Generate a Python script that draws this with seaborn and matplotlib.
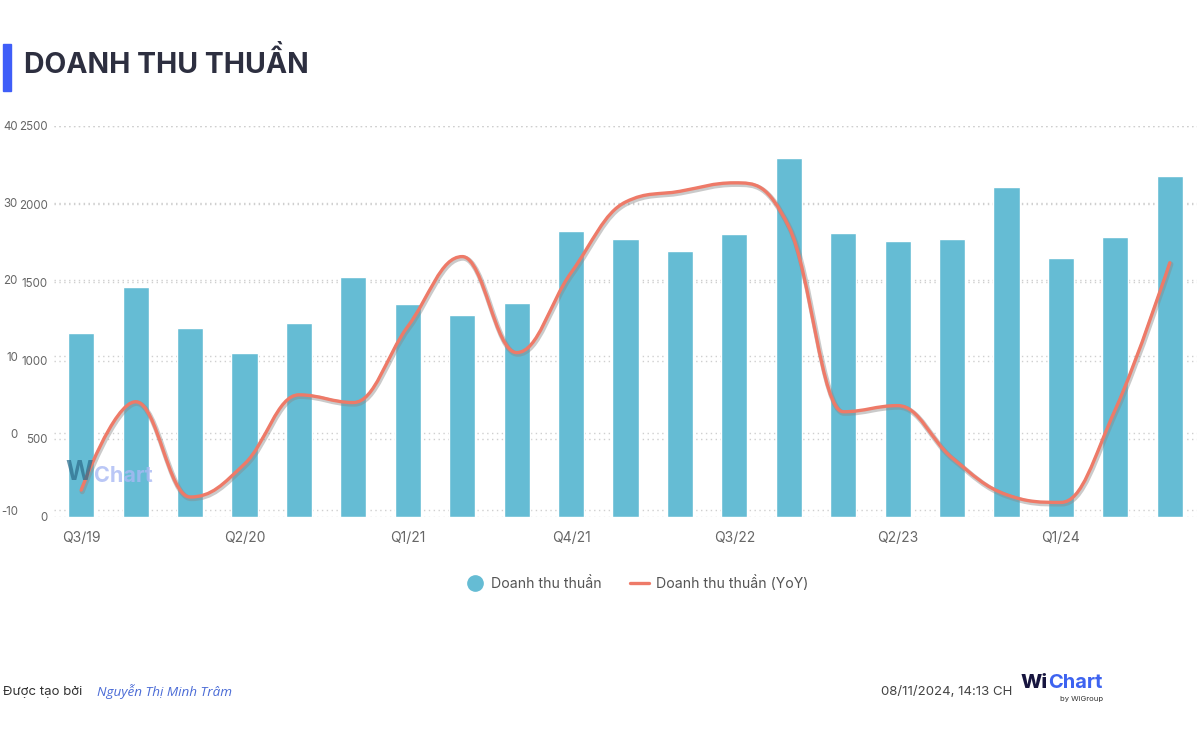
import matplotlib
matplotlib.use("Agg")
import matplotlib.pyplot as plt
import matplotlib.transforms as mtransforms
from matplotlib.path import Path
from matplotlib.patches import PathPatch, Rectangle
from matplotlib.lines import Line2D
import seaborn as sns
import pandas as pd

quarters = ["Q3/19", "Q4/19", "Q1/20", "Q2/20", "Q3/20", "Q4/20", "Q1/21", "Q2/21",
            "Q3/21", "Q4/21", "Q1/22", "Q2/22", "Q3/22", "Q4/22", "Q1/23", "Q2/23",
            "Q3/23", "Q4/23", "Q1/24", "Q2/24", "Q3/24"]
revenue = [1176, 1471, 1208, 1049, 1240, 1535, 1362, 1292, 1368, 1829, 1777, 1701,
           1809, 2295, 1816, 1765, 1777, 2110, 1656, 1790, 2180]
revenue_yoy = [-7.4, 4.1, -8.3, -4.0, 5.0, 4.0, 13.9, 23.0, 10.5, 20.9, 30.1, 31.5,
               32.6, 26.9, 2.8, 3.6, -3.2, -8.0, -9.0, 3.1, 22.2]
bar_ticks = [0, 500, 1000, 1500, 2000, 2500]
yoy_ticks = [-10, 0, 10, 20, 30, 40]

BAR_C = "#65BCD4"
LINE_C = "#EE7A68"
TICK_C = "#666666"
GRID_C = "#CFCFCF"

sns.set_theme(style="white")
plt.rcParams["font.family"] = ["Inter", "DejaVu Sans"]

df = pd.DataFrame({"quarter": quarters, "revenue": revenue})

fig = plt.figure(figsize=(12, 7.3), dpi=100)
rect = [0.045, 0.2918, 0.9525, 0.5356]

# line-scale grid axis (bottom)
ax_g = fig.add_axes(rect)
# bar axis
ax = fig.add_axes(rect, sharex=ax_g)
ax.patch.set_visible(False)
# line axis (top)
ax_l = fig.add_axes(rect, sharex=ax_g)
ax_l.patch.set_visible(False)

sns.barplot(data=df, x="quarter", y="revenue", ax=ax, color=BAR_C, saturation=1,
            width=0.48, zorder=2)
ax.set_xlim(-0.5, len(quarters) - 0.5)
ax.set_ylim(0, 2500)
ax.set_yticks(bar_ticks)
ax.set_yticklabels([str(t) for t in bar_ticks])
ax.set_axisbelow(True)
ax.grid(axis="y", color=GRID_C, linestyle=(0, (1, 2.5)), linewidth=1)
ax.grid(axis="x", visible=False)
ax.set_xlabel("")
ax.set_ylabel("")
xt = list(range(0, len(quarters), 3))
ax.set_xticks(xt)
ax.set_xticklabels([quarters[i] for i in xt])
ax.tick_params(axis="x", length=0, pad=10, labelsize=10, labelcolor=TICK_C)
ax.tick_params(axis="y", length=0, pad=4.5, labelsize=8.3, labelcolor=TICK_C)
for s in ax.spines.values():
    s.set_visible(False)

ax_g.set_ylim(-10.9, 40)
ax_g.set_yticks(yoy_ticks)
ax_g.set_yticklabels([str(t) for t in yoy_ticks])
ax_g.grid(axis="y", color=GRID_C, linestyle=(0, (1, 2.5)), linewidth=1)
ax_g.grid(axis="x", visible=False)
ax_g.tick_params(axis="y", length=0, pad=26, labelsize=8.3, labelcolor=TICK_C)
ax_g.tick_params(axis="x", length=0, labelbottom=False)
for s in ax_g.spines.values():
    s.set_visible(False)

ax_l.set_ylim(-10.9, 40)
ax_l.axis("off")


def hc_spline(xs, ys, smoothing=1.5):
    n = len(xs)
    denom = smoothing + 1
    left = [None] * n
    right = [None] * n
    for i in range(1, n - 1):
        px, py = xs[i], ys[i]
        lx, ly = xs[i - 1], ys[i - 1]
        nx, ny = xs[i + 1], ys[i + 1]
        lcx = (smoothing * px + lx) / denom
        lcy = (smoothing * py + ly) / denom
        rcx = (smoothing * px + nx) / denom
        rcy = (smoothing * py + ny) / denom
        corr = ((rcy - lcy) * (rcx - px)) / (rcx - lcx) + py - rcy
        lcy += corr
        rcy += corr
        if lcy > ly and lcy > py:
            lcy = max(ly, py); rcy = 2 * py - lcy
        elif lcy < ly and lcy < py:
            lcy = min(ly, py); rcy = 2 * py - lcy
        if rcy > ny and rcy > py:
            rcy = max(ny, py); lcy = 2 * py - rcy
        elif rcy < ny and rcy < py:
            rcy = min(ny, py); lcy = 2 * py - rcy
        left[i] = (lcx, lcy)
        right[i] = (rcx, rcy)
    verts = [(xs[0], ys[0])]
    codes = [Path.MOVETO]
    for i in range(1, n):
        c1 = right[i - 1] if right[i - 1] is not None else (xs[i - 1], ys[i - 1])
        c2 = left[i] if left[i] is not None else (xs[i], ys[i])
        verts += [c1, c2, (xs[i], ys[i])]
        codes += [Path.CURVE4] * 3
    return Path(verts, codes)


path = hc_spline(list(range(len(quarters))), revenue_yoy)
shadow_tr = mtransforms.offset_copy(ax_l.transData, fig=fig, x=1, y=-1.5, units="dots")
ax_l.add_patch(PathPatch(path, facecolor="none", edgecolor="#8a8a8a", alpha=0.45,
                         lw=3.8, transform=shadow_tr, capstyle="round", joinstyle="round"))
ax_l.add_patch(PathPatch(path, facecolor="none", edgecolor=LINE_C, lw=2.4,
                         capstyle="round", joinstyle="round"))

# watermark
fig.text(65 / 1200, 1 - 473 / 730, "W", fontsize=19, weight="bold", color="#2f6f8e",
         alpha=0.75, va="center")
fig.text(94 / 1200, 1 - 476 / 730, "Chart", fontsize=15.5, weight="bold", color="#a9b9f4",
         alpha=0.8, va="center")

# title
fig.patches.append(Rectangle((3 / 1200, 1 - 91 / 730), 8 / 1200, 47 / 730,
                             transform=fig.transFigure, color="#3F5EF8", figure=fig))
fig.text(24 / 1200, 1 - 63 / 730, "DOANH THU THUẦN", fontsize=20.5, weight="bold",
         color="#2D2F40", va="center")

# legend
handles = [Line2D([], [], marker="o", linestyle="none", markersize=11,
                  markerfacecolor=BAR_C, markeredgecolor=BAR_C),
           Line2D([], [], color=LINE_C, lw=2.4)]
leg = fig.legend(handles, ["Doanh thu thuần", "Doanh thu thuần (YoY)"], loc="center",
                 bbox_to_anchor=(637 / 1200, 1 - 583 / 730), ncol=2, frameon=False,
                 fontsize=10.2, handlelength=1.3, handletextpad=0.5, columnspacing=2.0)
for t in leg.get_texts():
    t.set_color("#555555")

# footer
fig.text(3 / 1200, 1 - 692 / 730, "Được tạo bởi", fontsize=9.5, color="#333333", va="center")
fig.text(97 / 1200, 1 - 692 / 730, "Nguyễn Thị Minh Trâm", fontsize=9.7, color="#4A6BD6",
         va="center", style="italic", family=["Open Sans", "DejaVu Sans"])
fig.text(1012 / 1200, 1 - 692 / 730, "08/11/2024, 14:13 CH", fontsize=9.5, color="#444444",
         va="center", ha="right")
fig.text(1021 / 1200, 1 - 683 / 730, "Wi", fontsize=14.5, weight="heavy", color="#17153F",
         va="center")
fig.text(1048 / 1200, 1 - 683 / 730, "Chart", fontsize=14.5, weight="bold", color="#3D63F0",
         va="center")
fig.text(1082 / 1200, 1 - 699 / 730, "by WiGroup", fontsize=5.5, color="#333333",
         va="center", ha="center")

fig.savefig("out.png", dpi=100, facecolor="white")
